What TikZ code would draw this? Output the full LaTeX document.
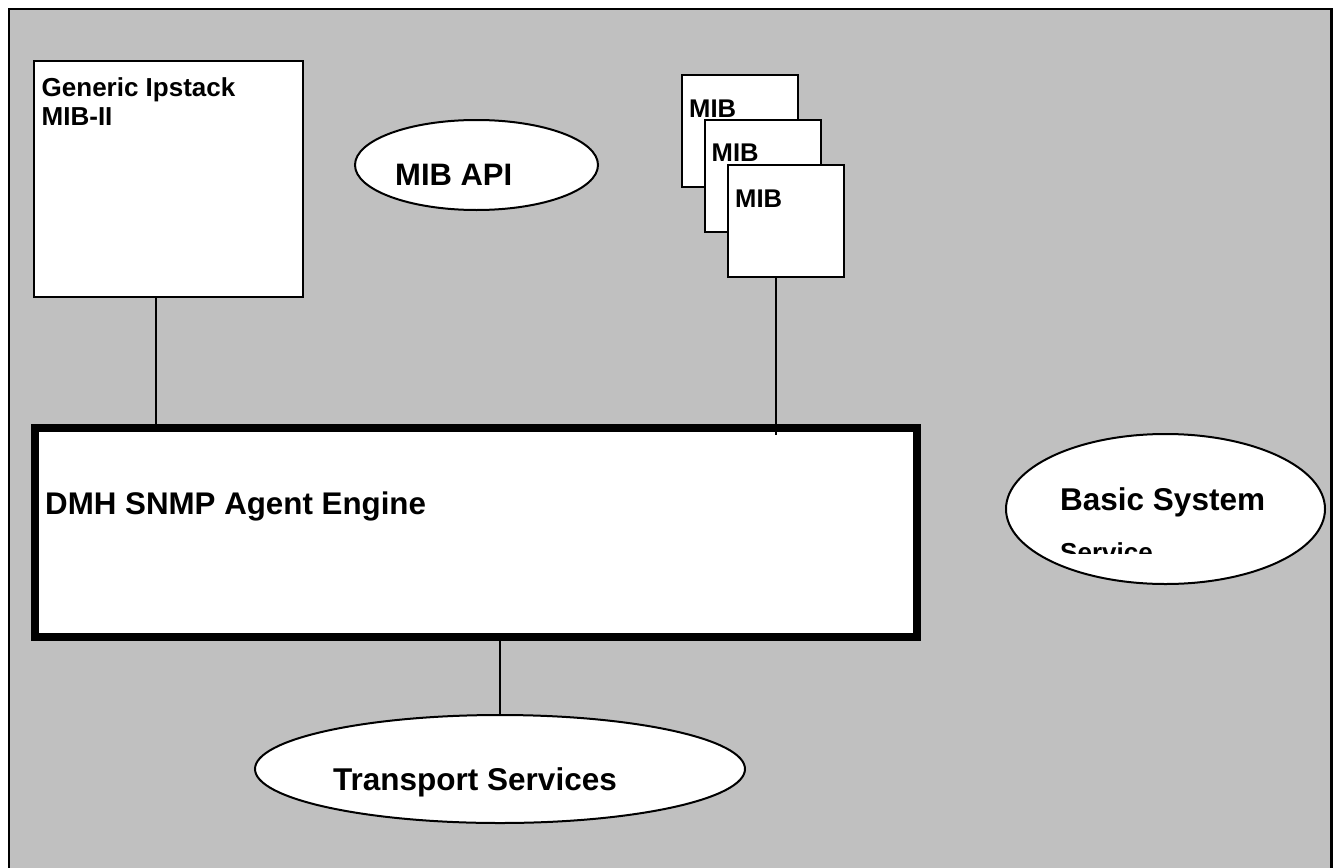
\documentclass[tikz,border=0pt]{standalone}
\usepackage{fontspec}
\setmainfont{Liberation Sans}
\usepackage{graphicx}
\usetikzlibrary{shapes.geometric}
\definecolor{bggray}{HTML}{C0C0C0}
\tikzset{
  box/.style={draw=black, fill=white, line width=2pt, rectangle, inner sep=0pt},
  engbox/.style={draw=black, fill=white, line width=8pt, rectangle, inner sep=0pt},
  oval/.style={draw=black, fill=white, line width=2pt, ellipse, inner sep=0pt},
  conn/.style={draw=black, line width=2pt},
  lbl/.style={anchor=base west, inner sep=0pt, font=\bfseries},
}
\newcommand{\fs}[1]{\fontsize{#1}{#1}\selectfont}
\begin{document}
\begin{tikzpicture}[x=1pt, y=-1pt]
\clip (0,0) rectangle (1335,867);
% outer frame
\draw[fill=bggray, line width=2.2pt] (9,9) rectangle (1331.5,900);

% Generic Ipstack box
\node[box, minimum width=269pt, minimum height=236pt] (generic) at (168.5,179) {};
\node[lbl, font=\bfseries\fs{26}] (gt1) at (41.5,96) {Generic Ipstack};
\node[lbl, font=\bfseries\fs{26}] (gt2) at (41.5,125.7) {MIB-II};

% MIB API
\node[oval, minimum width=243pt, minimum height=90pt] (mibapi) at (476.5,165) {};
\node[lbl, font=\bfseries\fs{31}] (mibapit) at (395,185) {MIB API};

% MIB stack
\node[box, minimum width=116pt, minimum height=112pt] (mib1) at (740,131) {};
\node[lbl, font=\bfseries\fs{25.6}] (mib1t) at (689,117.5) {MIB};
\node[box, minimum width=116pt, minimum height=112pt] (mib2) at (763,176) {};
\node[lbl, font=\bfseries\fs{25.6}] (mib2t) at (711.5,161.7) {MIB};
\node[box, minimum width=116pt, minimum height=112pt] (mib3) at (786,221) {};
\node[lbl, font=\bfseries\fs{25.6}] (mib3t) at (735,207.3) {MIB};

% Engine
\node[engbox, minimum width=882.5pt, minimum height=209pt] (engine) at (475.75,532) {};
\node[lbl, font=\bfseries\fs{31.3}] (enginet) at (45,514) {DMH SNMP Agent Engine};

% Transport
\node[oval, minimum width=490pt, minimum height=108pt] (transport) at (500,769) {};
\node[lbl, font=\bfseries\fs{31.5}] (transportt) at (333,790.5) {Transport Services};

% Basic System Service
\node[oval, minimum width=319pt, minimum height=150pt] (basic) at (1165.5,509) {};
\node[lbl, font=\bfseries\fs{31.5}] (basict1) at (1060,510.7) {Basic System};
\begin{scope}
\clip (1000,520) rectangle (1330,553.3);
\node[lbl, font=\bfseries\fs{26}] (basict2) at (1060,561.6) {Service};
\end{scope}

% connectors
\coordinate (g1) at (156,0);
\coordinate (m1) at (776,0);
\coordinate (m2) at (776,435);
\coordinate (t1) at (500,0);
\draw[conn] (generic.south -| g1) -- (engine.north -| g1);
\draw[conn] (mib3.south -| m1) -- (m2);
\draw[conn] (engine.south -| t1) -- (transport.north);
\end{tikzpicture}
\end{document}
